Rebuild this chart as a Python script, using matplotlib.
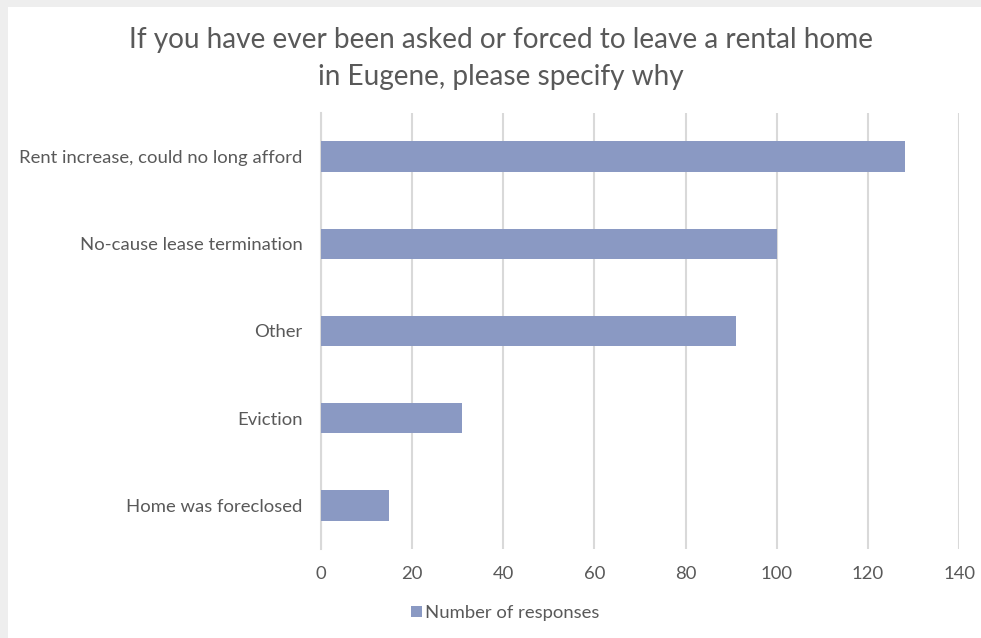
import matplotlib.pyplot as plt
from matplotlib.patches import Rectangle

categories = ["Rent increase, could no long afford", "No-cause lease termination",
              "Other", "Eviction", "Home was foreclosed"]
responses = [128, 100, 91, 31, 15]
x_ticks = [0, 20, 40, 60, 80, 100, 120, 140]
series_name = "Number of responses"

bar_color = "#8a99c3"
grid_color = "#d9d9d9"
text_color = "#595959"

plt.rcParams["font.family"] = ["Lato", "DejaVu Sans"]

fig = plt.figure(figsize=(9.81, 6.38), dpi=100)
fig.patch.set_facecolor("#eeeeee")
# white chart area inside the grey screenshot edge
fig.patches.append(Rectangle((8 / 981, 0), 1, 1 - 7 / 638, transform=fig.transFigure,
                             facecolor="white", edgecolor="none", zorder=-10))

ax = fig.add_axes([0.3269, 0.1395, 0.6510, 0.6834])
ax.set_facecolor("none")

y = list(range(len(categories)))
ax.barh(y, responses, height=0.35, color=bar_color, label=series_name, zorder=3)
ax.set_ylim(len(categories) - 0.5, -0.5)
ax.set_yticks(y)
ax.set_yticklabels(categories, fontsize=13.3, color=text_color)

ax.set_xlim(0, 140)
ax.set_xticks(x_ticks)
ax.set_xticklabels([str(v) for v in x_ticks], fontsize=13.3, color=text_color)
ax.xaxis.grid(True, color=grid_color, linewidth=1.5, zorder=0)
ax.set_axisbelow(True)

for side in ["top", "right", "bottom"]:
    ax.spines[side].set_visible(False)
ax.spines["left"].set_color(grid_color)
ax.spines["left"].set_linewidth(1.5)
ax.tick_params(axis="both", length=0)
ax.tick_params(axis="x", pad=12)
ax.tick_params(axis="y", pad=13)

fig.text(0.511, 1 - 48 / 638, "If you have ever been asked or forced to leave a rental home",
         ha="center", va="baseline", fontsize=20.2, color=text_color)
fig.text(0.511, 1 - 85 / 638, "in Eugene, please specify why",
         ha="center", va="baseline", fontsize=20.2, color=text_color)

leg = fig.legend(loc="center", bbox_to_anchor=(0.515, 1 - 613 / 638), frameon=False,
                 fontsize=13.3, handlelength=0.6, handleheight=0.6, handletextpad=0.2)
for t in leg.get_texts():
    t.set_color(text_color)

fig.savefig("out.png", dpi=100, facecolor=fig.get_facecolor())
